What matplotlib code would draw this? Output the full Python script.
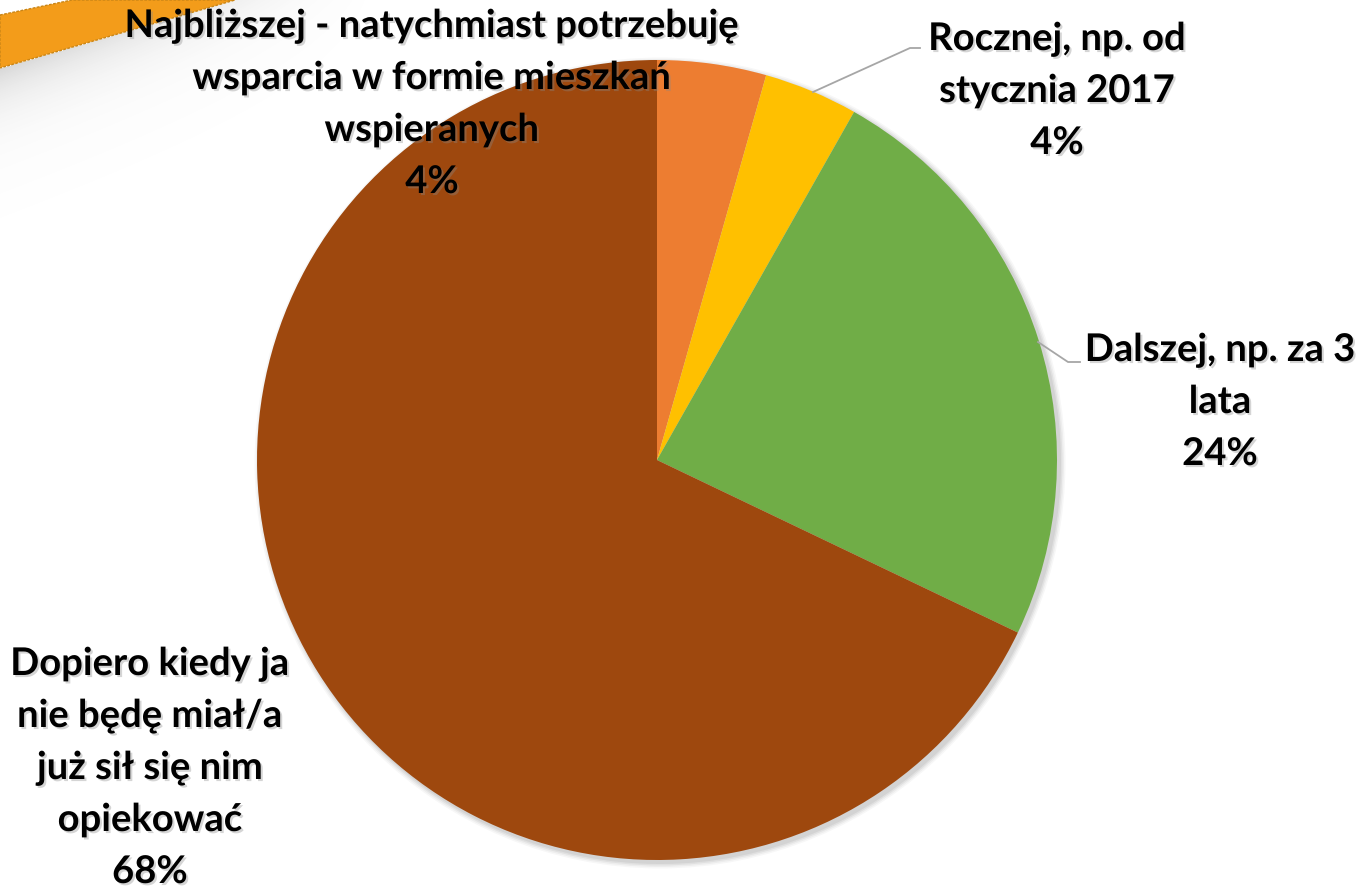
import matplotlib
matplotlib.use("Agg")
import numpy as np
import matplotlib.pyplot as plt
import matplotlib.patheffects as pe
from matplotlib.patches import Polygon, Circle

# data
values = [4.4, 3.8, 23.9, 67.9]
colors = ['#ED7D31', '#FFC000', '#70AD47', '#9E480E']
label_lines = [
    ['Najbliższej - natychmiast potrzebuję', 'wsparcia w formie mieszkań', 'wspieranych'],
    ['Rocznej, np. od', 'stycznia 2017'],
    ['Dalszej, np. za 3', 'lata'],
    ['Dopiero kiedy ja', 'nie będę miał/a', 'już sił się nim', 'opiekować'],
]
# label anchor (center x, first baseline y) in pixels from the top-left
label_pos = [(432, 37), (1057, 50), (1220, 361), (150, 675)]
line_step = 52

W, H = 1370, 890
fig = plt.figure(figsize=(W / 100, H / 100), dpi=100)
ax = fig.add_axes([0, 0, 1, 1])

cx, cy, r = 657, H - 460, 400

# grey shade under the corner swoosh (smooth fade)
gx, gy = np.meshgrid(np.arange(0, 400), np.arange(0, 250))
d = gy - (68 - 0.29 * gx)
shade = np.where(d > 0, 0.28 * np.exp(-d / 35.0) * np.clip(1 - gx / 380.0, 0, 1), 0)
rgba = np.zeros((250, 400, 4))
rgba[..., :3] = 0.45
rgba[..., 3] = shade
ax.imshow(rgba, extent=(0, 400, H - 250, H), origin='upper', zorder=0, interpolation='bilinear')

# orange swoosh
ax.add_patch(Polygon([(0, H - 15), (72, H), (235, H), (0, H - 68)], closed=True,
                     facecolor='#F39C1A', edgecolor='#C98516', lw=1.0, ls=(0, (2, 1)), zorder=1))

# soft shadow behind the pie
for k, a in enumerate([0.06, 0.05, 0.04, 0.03]):
    ax.add_patch(Circle((cx + 3, cy - 3), r + 1 + k * 1.5, facecolor='#000000', alpha=a,
                        edgecolor='none', zorder=1))

wedges, _ = ax.pie(values, colors=colors, startangle=90, counterclock=False,
                   center=(cx, cy), radius=r, wedgeprops=dict(linewidth=0, zorder=2))

ax.set_xlim(0, W)
ax.set_ylim(0, H)
ax.set_aspect('equal')
ax.axis('off')

# leader lines
ax.plot([813, 910, 920], [H - 92, H - 48, H - 48], color='#A6A6A6', lw=1.3, zorder=3)
ax.plot([1038, 1068, 1080], [H - 342, H - 362, H - 362], color='#A6A6A6', lw=1.3, zorder=3)

shadow = [pe.withSimplePatchShadow(offset=(1.5, -1.5), shadow_rgbFace='#888888', alpha=0.35)]
for lines, v, (tx, ty) in zip(label_lines, values, label_pos):
    for i, line in enumerate(lines + [f'{round(v)}%']):
        ax.text(tx, H - (ty + i * line_step), line, ha='center', va='baseline',
                fontsize=27.5, fontweight='bold', family=['Lato', 'DejaVu Sans'],
                color='black', path_effects=shadow, zorder=5)

fig.savefig('out.png', dpi=100)
